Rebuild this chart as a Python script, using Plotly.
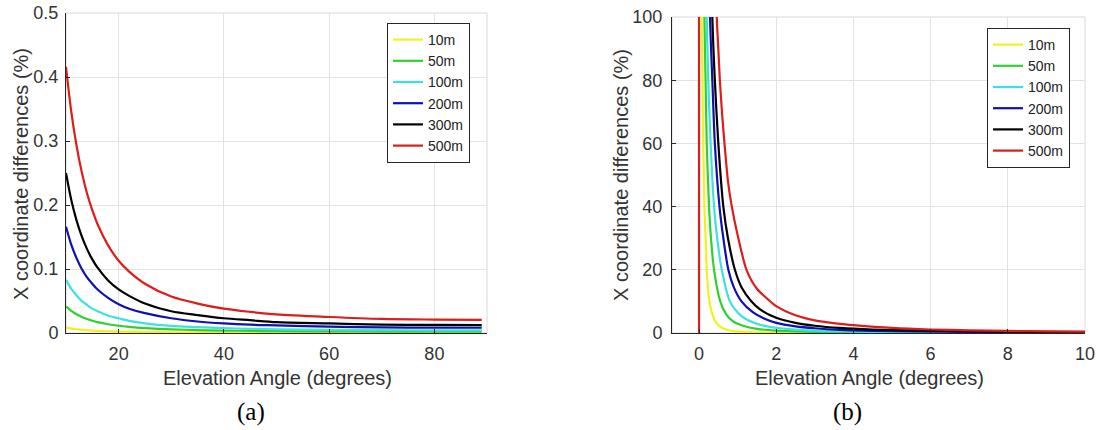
import plotly.graph_objects as go

# ---------------- Data ----------------
heights = ["10m", "50m", "100m", "200m", "300m", "500m"]
colors = ["#f2f21a", "#2fd02f", "#3fe0e0", "#1010b0", "#000000", "#dd1c1c"]

# Panel (a): elevation angle 10..89 degrees
angles_a = [10, 11, 12, 13, 14, 15, 16, 18, 20, 22, 25, 30, 35, 40, 45, 50, 60, 70, 80, 89]
diff_a_10m = [0.0083, 0.0069, 0.0059, 0.0050, 0.0044, 0.0038, 0.0034, 0.0027, 0.0023, 0.0019,
              0.0015, 0.0011, 0.0009, 0.0008, 0.0007, 0.0006, 0.0005, 0.0004, 0.0004, 0.0004]
diff_a_50m = [0.0416, 0.0346, 0.0293, 0.0251, 0.0218, 0.0192, 0.0170, 0.0137, 0.0113, 0.0096,
              0.0077, 0.0057, 0.0046, 0.0038, 0.0033, 0.0029, 0.0025, 0.0022, 0.0021, 0.0021]
diff_a_100m = [0.083, 0.069, 0.059, 0.050, 0.044, 0.038, 0.034, 0.027, 0.023, 0.019,
               0.015, 0.011, 0.0092, 0.0076, 0.0066, 0.0058, 0.0049, 0.0044, 0.0042, 0.0041]
diff_a_200m = [0.166, 0.138, 0.117, 0.100, 0.087, 0.077, 0.068, 0.055, 0.045, 0.038,
               0.031, 0.023, 0.018, 0.015, 0.013, 0.012, 0.010, 0.0088, 0.0084, 0.0082]
diff_a_300m = [0.250, 0.208, 0.176, 0.151, 0.131, 0.115, 0.102, 0.082, 0.068, 0.058,
               0.046, 0.034, 0.028, 0.023, 0.020, 0.017, 0.015, 0.013, 0.0126, 0.0123]
diff_a_500m = [0.416, 0.346, 0.293, 0.251, 0.218, 0.192, 0.170, 0.137, 0.113, 0.096,
               0.077, 0.057, 0.046, 0.038, 0.033, 0.029, 0.025, 0.022, 0.021, 0.0205]

# Panel (b): elevation angle 0..10 degrees (first points lie above the 100 % limit)
angles_b_10m = [0.045, 0.07, 0.09, 0.11, 0.14, 0.17, 0.2, 0.27, 0.37, 0.45, 0.6, 0.8, 1.0,
                1.3, 1.7, 2.2, 3, 4, 6, 8, 10]
diff_b_10m = [200, 100, 80, 60, 40, 30, 20, 10, 5, 3.2, 1.6, 0.8, 0.5,
              0.3, 0.18, 0.1, 0.06, 0.035, 0.016, 0.01, 0.008]
angles_b_50m = [0.09, 0.14, 0.17, 0.2, 0.26, 0.31, 0.39, 0.55, 0.7, 0.85, 1.0, 1.25, 1.5,
                2.0, 2.5, 3.0, 4, 5, 6.5, 8, 10]
diff_b_50m = [200, 100, 80, 60, 40, 30, 20, 10, 6.0, 4.0, 2.9, 1.9, 1.3,
              0.75, 0.5, 0.35, 0.2, 0.13, 0.08, 0.06, 0.042]
angles_b_100m = [0.13, 0.2, 0.24, 0.30, 0.39, 0.47, 0.59, 0.8, 1.0, 1.2, 1.5, 2.0, 2.5,
                 3.0, 3.65, 4.5, 5.5, 7, 8.5, 10]
diff_b_100m = [200, 100, 80, 60, 40, 30, 20, 10, 6.5, 4.5, 2.9, 1.6, 1.05,
               0.75, 0.5, 0.35, 0.25, 0.16, 0.11, 0.083]
angles_b_200m = [0.185, 0.285, 0.345, 0.41, 0.53, 0.63, 0.76, 0.9, 1.1, 1.4, 1.7, 2.0, 2.5,
                 3.0, 3.65, 4.5, 5.5, 7, 8.5, 10]
diff_b_200m = [200, 100, 80, 60, 40, 30, 20, 14.5, 10, 6.5, 4.5, 3.2, 2.1,
               1.5, 1.0, 0.7, 0.5, 0.33, 0.23, 0.17]
angles_b_300m = [0.225, 0.345, 0.41, 0.5, 0.63, 0.75, 0.93, 1.1, 1.36, 1.6, 2.0, 2.5, 3.0,
                 3.65, 4.5, 5.5, 7, 8.5, 10]
diff_b_300m = [200, 100, 80, 60, 40, 30, 20, 14.5, 10, 7.3, 4.8, 3.2, 2.3,
               1.6, 1.1, 0.8, 0.55, 0.38, 0.25]
# the 500m curve starts with a vertical jump at 0 degrees
angles_b_500m = [0, 0, 0, 0.3, 0.46, 0.5, 0.54, 0.6, 0.66, 0.75, 0.85, 1.0, 1.23, 1.5, 1.8, 2.0,
                 2.5, 3.0, 3.65, 4, 5, 6, 7, 8, 9, 10]
diff_b_500m = [0, 100, 3000, 200, 100, 90, 80, 69, 60, 48, 40, 31, 20, 14, 10.5, 8.5,
               5.6, 4.0, 2.9, 2.5, 1.6, 1.1, 0.85, 0.65, 0.52, 0.42]

x_ticks_a = [20, 40, 60, 80]
y_ticks_a = [0, 0.1, 0.2, 0.3, 0.4, 0.5]
x_ticks_b = [0, 2, 4, 6, 8, 10]
y_ticks_b = [0, 20, 40, 60, 80, 100]

x_title = "Elevation Angle (degrees)"
y_title = "X coordinate differences (%)"

# ---------------- Figure ----------------
W, H = 1099, 430
fig = go.Figure()

series_a = [diff_a_10m, diff_a_50m, diff_a_100m, diff_a_200m, diff_a_300m, diff_a_500m]
series_b = [(angles_b_10m, diff_b_10m), (angles_b_50m, diff_b_50m), (angles_b_100m, diff_b_100m),
            (angles_b_200m, diff_b_200m), (angles_b_300m, diff_b_300m), (angles_b_500m, diff_b_500m)]

for name, col, ys in zip(heights, colors, series_a):
    fig.add_trace(go.Scatter(x=angles_a, y=ys, mode="lines", name=name,
                             line=dict(color=col, width=2.2, shape="spline", smoothing=0.8),
                             xaxis="x", yaxis="y", legend="legend"))
for name, col, (xs, ys) in zip(heights, colors, series_b):
    fig.add_trace(go.Scatter(x=xs, y=ys, mode="lines", name=name,
                             line=dict(color=col, width=2.2, shape="spline", smoothing=0.7),
                             xaxis="x2", yaxis="y2", legend="legend2"))

axis_col = "#262626"
font_family = "Liberation Sans, Arial, sans-serif"

def px_x(p):
    return p / W

def px_y(p):
    return 1 - p / H

common_axis = dict(showgrid=True, gridcolor="#e3e3e3", gridwidth=1, zeroline=False,
                   showline=True, linecolor=axis_col, linewidth=1,
                   ticks="inside", ticklen=4, tickcolor=axis_col, automargin=False,
                   tickfont=dict(family=font_family, size=18, color="#333333"))

legend_font = dict(family=font_family, size=14, color="#222222")
fig.update_layout(
    width=W, height=H,
    margin=dict(l=0, r=0, t=0, b=0, pad=0, autoexpand=False),
    paper_bgcolor="white", plot_bgcolor="white",
    showlegend=True,
    xaxis=dict(domain=[px_x(66), px_x(487)], range=[10, 90], tickvals=x_ticks_a,
               anchor="y", ticklabelstandoff=4, **common_axis),
    yaxis=dict(domain=[px_y(333), px_y(13)], range=[0, 0.5], tickvals=y_ticks_a,
               anchor="x", ticklabelstandoff=3, **common_axis),
    xaxis2=dict(domain=[px_x(672), px_x(1085)], range=[-0.7, 10], tickvals=x_ticks_b,
                anchor="y2", ticklabelstandoff=4, **common_axis),
    yaxis2=dict(domain=[px_y(333), px_y(17)], range=[0, 100], tickvals=y_ticks_b,
                anchor="x2", ticklabelstandoff=5, **common_axis),
    legend=dict(x=px_x(387), y=px_y(23), xanchor="left", yanchor="top",
                bgcolor="white", bordercolor=axis_col, borderwidth=1,
                font=legend_font, tracegroupgap=0, itemwidth=30),
    legend2=dict(x=px_x(987), y=px_y(28), xanchor="left", yanchor="top",
                 bgcolor="white", bordercolor=axis_col, borderwidth=1,
                 font=legend_font, tracegroupgap=0, itemwidth=30),
)

# light box around each plot area (top/right edges)
for xr, yr in [("x domain", "y domain"), ("x2 domain", "y2 domain")]:
    fig.add_shape(type="rect", xref=xr, yref=yr, x0=0, x1=1, y0=0, y1=1,
                  line=dict(color="#d9d9d9", width=1), layer="below")

title_font = dict(family=font_family, size=20, color="#333333")
annots = [
    dict(text=x_title, x=px_x(277), y=px_y(378)),
    dict(text=x_title, x=px_x(869), y=px_y(378)),
    dict(text=y_title, x=px_x(21), y=px_y(174), textangle=-90),
    dict(text=y_title, x=px_x(621), y=px_y(175), textangle=-90),
]
for a in annots:
    fig.add_annotation(xref="paper", yref="paper", showarrow=False,
                       xanchor="center", yanchor="middle", font=title_font, **a)

cap_font = dict(family="Liberation Serif, Times New Roman, serif", size=25, color="#000000")
for txt, cx in [("(a)", 251), ("(b)", 847)]:
    fig.add_annotation(text=txt, xref="paper", yref="paper", x=px_x(cx), y=px_y(412),
                       showarrow=False, xanchor="center", yanchor="middle", font=cap_font)

fig.write_html("out.html", config={"displayModeBar": False},
               post_script="document.body.style.margin='0';document.body.style.padding='0';")
